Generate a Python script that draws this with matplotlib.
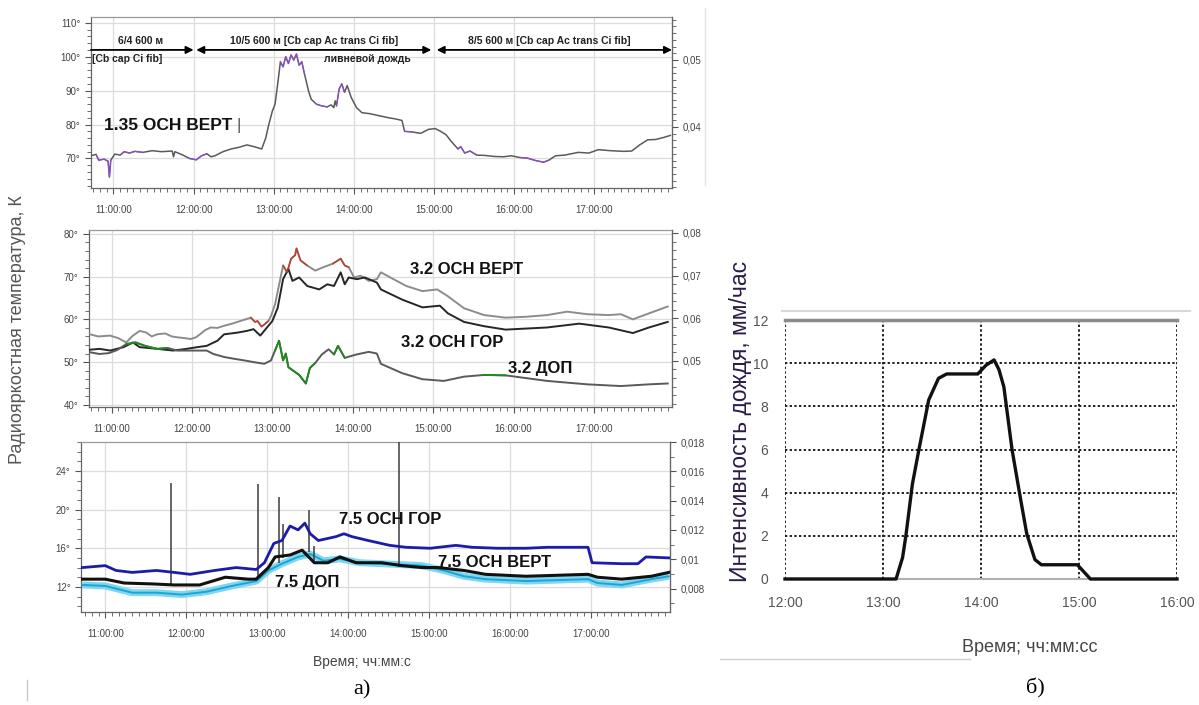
import numpy as np
import matplotlib
matplotlib.use("Agg")
import matplotlib.pyplot as plt
from matplotlib.ticker import MultipleLocator, FixedLocator, FuncFormatter
from matplotlib.lines import Line2D

plt.rcParams['font.family'] = ['Liberation Sans', 'DejaVu Sans']

# ---- 1.35 GHz, vertical polarisation (K) ----
t135 = ["10:43", "10:47", "10:49", "10:53", "10:56", "10:57", "10:58", "11:01", "11:05", "11:08",
        "11:12", "11:16", "11:22", "11:29", "11:36", "11:44", "11:45", "11:46", "11:52", "11:57",
        "12:02", "12:06", "12:10", "12:13", "12:16", "12:22", "12:28", "12:34", "12:40", "12:46",
        "12:51", "12:54", "12:56", "12:59", "13:01", "13:03", "13:05", "13:07", "13:09", "13:11",
        "13:13", "13:15", "13:17", "13:19", "13:21", "13:23", "13:26", "13:28", "13:32", "13:36",
        "13:40", "13:43", "13:45", "13:46", "13:47", "13:49", "13:51", "13:53", "13:55", "13:58",
        "14:02", "14:06", "14:12", "14:19", "14:26", "14:32", "14:36", "14:38", "14:44", "14:50",
        "14:56", "15:01", "15:05", "15:09", "15:13", "15:18", "15:20", "15:23", "15:27", "15:32",
        "15:38", "15:45", "15:52", "15:58", "16:04", "16:10", "16:16", "16:22", "16:26", "16:31",
        "16:38", "16:48", "16:56", "17:03", "17:12", "17:22", "17:28", "17:34", "17:40", "17:46",
        "17:52", "17:57"]
v135 = [70.8, 71.2, 69.5, 69.8, 69.2, 64.5, 69.5, 71.3, 71.0, 72.0,
        71.6, 72.1, 71.8, 72.3, 72.0, 72.2, 70.5, 72.0, 71.0, 70.0,
        69.6, 70.8, 71.4, 70.5, 70.8, 72.0, 72.8, 73.3, 74.0, 73.4,
        72.8, 76.0, 79.5, 84.0, 86.0, 92.0, 98.5, 97.0, 100.0, 98.0,
        100.5, 99.0, 100.8, 97.5, 98.5, 95.0, 90.0, 87.5, 86.0, 85.5,
        85.2, 85.8, 85.0, 87.0, 85.5, 90.5, 92.0, 89.5, 91.5, 88.0,
        85.0, 83.5, 83.2, 82.6, 82.0, 81.6, 81.2, 78.0, 77.8, 77.4,
        78.6, 78.8, 78.0, 77.0, 75.0, 72.8, 73.5, 71.6, 72.2, 71.0,
        70.9, 70.6, 70.5, 70.8, 70.3, 70.1, 69.4, 68.9, 69.5, 70.8,
        71.0, 71.8, 71.6, 72.6, 72.3, 72.1, 72.2, 74.0, 75.5, 75.6,
        76.2, 76.8]
purple_win = [("10:46", "11:00"), ("11:05", "11:25"), ("11:55", "12:10"), ("13:04", "13:24"),
              ("13:31", "13:40"), ("13:47", "13:53"), ("14:37", "14:44"), ("15:18", "15:35"),
              ("16:00", "16:30")]

# ---- 3.2 GHz ----
t32a = ["10:44", "10:50", "10:59", "11:05", "11:11", "11:16", "11:21", "11:26", "11:30", "11:34",
        "11:40", "11:45", "11:49", "11:55", "11:59", "12:03", "12:06", "12:10", "12:14", "12:19",
        "12:24", "12:30", "12:36", "12:40", "12:44", "12:47", "12:49", "12:52", "12:54", "12:57",
        "12:59", "13:02", "13:08", "13:11", "13:14", "13:17", "13:18", "13:21", "13:26", "13:32",
        "13:38", "13:45", "13:51", "13:54", "13:57", "14:01", "14:06", "14:12", "14:18", "14:21",
        "14:28", "14:40", "14:52", "15:03", "15:11", "15:23", "15:38", "15:54", "16:09", "16:25",
        "16:40", "16:55", "17:11", "17:20", "17:29", "17:41", "17:55"]
v32a = [56.5, 56.0, 56.2, 55.6, 54.6, 56.2, 57.3, 56.9, 56.0, 56.5,
        56.7, 56.0, 55.8, 55.6, 55.4, 55.8, 56.5, 57.5, 58.1, 58.0,
        58.5, 59.0, 59.6, 60.0, 60.4, 59.4, 59.6, 58.3, 58.8, 59.6,
        60.8, 63.5, 72.6, 71.0, 74.2, 75.0, 76.6, 73.8, 72.6, 71.4,
        72.2, 73.0, 74.2, 72.6, 72.2, 69.8, 70.2, 69.0, 69.4, 71.0,
        69.8, 67.8, 66.6, 67.0, 65.4, 62.6, 61.0, 60.4, 60.6, 61.0,
        61.8, 61.2, 61.0, 61.2, 60.0, 61.4, 63.0]
t32b = ["10:44", "10:51", "10:59", "11:09", "11:16", "11:21", "11:34", "11:46", "11:56", "12:04",
        "12:11", "12:19", "12:24", "12:34", "12:41", "12:46", "12:51", "12:56", "13:00", "13:04",
        "13:08", "13:12", "13:15", "13:20", "13:26", "13:35", "13:41", "13:46", "13:51", "13:54",
        "13:57", "14:03", "14:09", "14:18", "14:21", "14:37", "14:52", "15:05", "15:11", "15:23",
        "15:38", "15:54", "16:25", "16:49", "17:11", "17:29", "17:41", "17:55"]
v32b = [52.9, 53.1, 52.7, 53.5, 54.6, 53.5, 53.1, 52.7, 53.1, 53.5,
        53.8, 55.0, 56.5, 56.9, 57.3, 57.7, 56.2, 58.1, 59.6, 62.7,
        69.4, 71.8, 69.0, 69.8, 67.8, 67.0, 68.2, 67.8, 71.0, 68.2,
        69.8, 69.4, 69.8, 68.6, 67.0, 64.6, 62.8, 63.2, 61.4, 59.4,
        58.4, 57.6, 58.1, 59.0, 58.1, 56.8, 58.1, 59.4]
t32c = ["10:44", "10:51", "10:58", "11:04", "11:11", "11:18", "11:25", "11:34", "11:42", "11:49",
        "11:59", "12:11", "12:16", "12:24", "12:31", "12:39", "12:46", "12:54", "12:59", "13:02",
        "13:05", "13:08", "13:10", "13:12", "13:20", "13:25", "13:28", "13:32", "13:37", "13:42",
        "13:46", "13:49", "13:54", "14:03", "14:12", "14:18", "14:21", "14:37", "14:52", "15:08",
        "15:23", "15:38", "15:54", "16:25", "16:55", "17:20", "17:41", "17:55"]
v32c = [52.3, 51.9, 52.1, 52.8, 54.2, 54.6, 53.8, 53.1, 53.3, 52.7,
        52.7, 52.7, 51.9, 51.2, 50.8, 50.4, 50.0, 49.6, 50.4, 52.7,
        55.0, 50.4, 52.0, 48.8, 47.0, 45.0, 48.6, 49.8, 51.8, 53.0,
        51.8, 53.8, 51.0, 51.8, 52.4, 52.0, 49.6, 47.4, 46.0, 45.6,
        46.6, 47.0, 46.9, 45.6, 44.8, 44.4, 44.8, 45.0]
red_win = [("12:44", "12:58"), ("13:05", "13:27"), ("13:45", "13:58")]
green_win = [("11:10", "11:45"), ("13:00", "13:36"), ("13:44", "14:02"), ("15:35", "15:56")]

# ---- 7.5 GHz ----
t75g = ["10:43", "11:00", "11:08", "11:20", "11:38", "11:51", "12:03", "12:21", "12:37", "12:52",
        "12:58", "13:05", "13:11", "13:17", "13:23", "13:28", "13:32", "13:38", "13:51", "13:57",
        "14:03", "14:15", "14:31", "14:43", "15:01", "15:20", "15:32", "15:51", "16:12", "16:28",
        "16:58", "17:01", "17:23", "17:35", "17:41", "17:58"]
v75g = [14.0, 14.2, 13.7, 13.5, 13.7, 13.5, 13.3, 13.7, 14.0, 13.8,
        14.5, 16.5, 16.8, 18.3, 17.9, 18.6, 17.5, 16.8, 17.2, 17.5,
        17.2, 16.8, 16.3, 16.1, 16.0, 16.3, 16.1, 16.0, 16.0, 16.1,
        16.1, 14.5, 14.4, 14.4, 15.1, 15.0]
t75v = ["10:43", "11:00", "11:14", "11:36", "11:51", "12:10", "12:29", "12:46", "12:52", "13:01",
        "13:06", "13:17", "13:26", "13:35", "13:45", "13:54", "14:06", "14:25", "14:40", "14:55",
        "15:07", "15:26", "15:42", "16:12", "16:58", "17:05", "17:23", "17:45", "17:58"]
v75v = [12.8, 12.8, 12.4, 12.3, 12.2, 12.2, 13.0, 12.8, 12.8, 14.0,
        15.1, 15.3, 15.8, 14.5, 14.5, 15.1, 14.5, 14.5, 14.2, 14.0,
        14.0, 13.7, 13.3, 13.1, 13.3, 13.0, 12.8, 13.1, 13.5]
t75d = ["10:43", "11:00", "11:20", "11:38", "11:57", "12:15", "12:34", "12:52", "13:01", "13:11",
        "13:23", "13:32", "13:42", "13:54", "14:09", "14:25", "14:55", "15:11", "15:26", "15:42",
        "16:12", "16:58", "17:05", "17:23", "17:45", "17:58"]
v75d = [12.2, 12.1, 11.4, 11.4, 11.2, 11.5, 12.1, 12.6, 13.7, 14.4,
        15.1, 15.4, 14.7, 14.9, 14.5, 14.4, 14.2, 13.7, 13.1, 12.8,
        12.6, 12.8, 12.4, 12.2, 12.8, 13.1]
spike_t = ["11:49", "12:53", "13:09", "13:12", "13:31", "13:35", "14:38"]
spike_lo = [12.3, 12.8, 14.5, 15.0, 15.6, 14.6, 14.1]
spike_hi = [22.8, 22.7, 21.3, 18.5, 20.0, 16.2, 27.5]

# ---- rain intensity (mm/h) ----
rain_t = ["12:00", "13:08", "13:12", "13:14", "13:18", "13:22", "13:28", "13:34", "13:39", "13:58",
          "14:03", "14:08", "14:11", "14:14", "14:19", "14:24", "14:28", "14:33", "14:37", "14:59",
          "15:07", "16:00"]
rain_v = [0, 0, 1.0, 2.0, 4.4, 6.0, 8.3, 9.3, 9.5, 9.5,
          9.9, 10.15, 9.7, 8.9, 6.0, 3.8, 2.1, 0.9, 0.66, 0.66,
          0, 0]


def hrs(lst):
    return np.array([int(s.split(':')[0]) + int(s.split(':')[1]) / 60 for s in lst])


def windowed(t, v, wins):
    t = np.asarray(t)
    m = np.zeros(len(t), bool)
    for a, b in wins:
        m |= (t >= hrs([a])[0]) & (t <= hrs([b])[0])
    return np.where(m, v, np.nan)


W, H = 1199, 705


def box(l, t, r, b):
    return [l / W, 1 - b / H, (r - l) / W, (b - t) / H]


fig = plt.figure(figsize=(W / 100, H / 100), dpi=100)
fig.patch.set_facecolor('white')

xfmt = FuncFormatter(lambda v, p: "%02d:00:00" % int(round(v)))
TICKC = '#444444'


def style_panel(ax, xlim, ylim, yticks, ylabels, rlim, rticks, rlabels, yminor, rminor):
    ax.set_xlim(*xlim)
    ax.set_ylim(*ylim)
    ax.xaxis.set_major_locator(FixedLocator([11, 12, 13, 14, 15, 16, 17]))
    ax.xaxis.set_minor_locator(MultipleLocator(1 / 12))
    ax.xaxis.set_major_formatter(xfmt)
    ax.set_yticks(yticks)
    ax.set_yticklabels(ylabels)
    ax.yaxis.set_minor_locator(MultipleLocator(yminor))
    ax.grid(True, which='major', color='#dcdcdc', lw=0.9)
    ax.tick_params(axis='both', which='major', labelsize=7, colors='#555555', labelcolor=TICKC,
                   length=4, width=0.8)
    ax.tick_params(axis='x', which='major', pad=8)
    ax.tick_params(axis='both', which='minor', length=3, width=0.6, colors='#555555')
    for s in ax.spines.values():
        s.set_color('#666666')
        s.set_linewidth(0.9)
    ax.spines['top'].set_color('#999999')
    r = ax.twinx()
    r.set_ylim(*rlim)
    r.set_yticks(rticks)
    r.set_yticklabels(rlabels)
    r.yaxis.set_minor_locator(MultipleLocator(rminor))
    r.tick_params(axis='y', which='major', labelsize=7, colors='#555555', labelcolor=TICKC,
                  length=4, width=0.8)
    r.tick_params(axis='y', which='minor', length=3, width=0.6, colors='#555555')
    for s in r.spines.values():
        s.set_visible(False)
    r.spines['right'].set_visible(True)
    r.spines['right'].set_color('#666666')
    return r


# ---------- top panel ----------
ax1 = fig.add_axes(box(91, 17, 672, 188))
x = hrs(t135)
ax1.plot(x, v135, color='#5a5a5a', lw=1.1, zorder=3)
ax1.plot(x, windowed(x, v135, purple_win), color='#9a48e6', lw=0.8, alpha=0.85, zorder=4)
style_panel(ax1, (10.72, 17.97), (61.3, 111.7), [70, 80, 90, 100, 110],
            ["70°", "80°", "90°", "100°", "110°"],
            (0.0309, 0.0564), [0.04, 0.05], ["0,04", "0,05"], 2, 0.001)

arrow_kw = dict(color='black', lw=1.3, mutation_scale=11)
ax1.annotate('', xy=(hrs(["12:00"])[0], 102), xytext=(10.72, 102),
             arrowprops=dict(arrowstyle='-|>', shrinkA=0, shrinkB=0, **arrow_kw), zorder=6)
ax1.annotate('', xy=(hrs(["14:58"])[0], 102), xytext=(hrs(["12:02"])[0], 102),
             arrowprops=dict(arrowstyle='<|-|>', shrinkA=0, shrinkB=0, **arrow_kw), zorder=6)
ax1.annotate('', xy=(17.97, 102), xytext=(hrs(["15:02"])[0], 102),
             arrowprops=dict(arrowstyle='<|-|>', shrinkA=0, shrinkB=0, **arrow_kw), zorder=6)
hdr = dict(fontsize=7.5, color='#222222', fontweight='bold')
ax1.text(hrs(["11:20"])[0], 103.2, "6/4 600 м", ha='center', va='bottom', **hdr)
ax1.text(hrs(["10:44"])[0], 100.8, "[Cb cap Ci fib]", ha='left', va='top', **hdr)
ax1.text(hrs(["13:30"])[0], 103.2, "10/5 600 м [Cb cap Ac trans Ci fib]", ha='center', va='bottom', **hdr)
ax1.text(hrs(["14:10"])[0], 100.8, "ливневой дождь", ha='center', va='top', **hdr)
ax1.text(hrs(["16:26"])[0], 103.2, "8/5 600 м [Cb cap Ac trans Ci fib]", ha='center', va='bottom', **hdr)
ax1.text(hrs(["10:53"])[0], 79.8, "1.35 ОСН ВЕРТ", fontsize=12.5, fontweight='bold',
         ha='left', va='center', color='#111111', zorder=7)
ax1.text(hrs(["12:32"])[0], 79.8, "|", fontsize=12, color='#555555', ha='left', va='center')

# ---------- middle panel ----------
ax2 = fig.add_axes(box(89, 230, 672, 407))
xa, xb, xc = hrs(t32a), hrs(t32b), hrs(t32c)
ax2.plot(xa, v32a, color='#8c8c8c', lw=1.4, zorder=3)
ax2.plot(xa, windowed(xa, v32a, red_win), color='#c0392b', lw=1.0, zorder=4)
ax2.plot(xb, v32b, color='#262626', lw=1.4, zorder=3)
ax2.plot(xc, v32c, color='#5a5a5a', lw=1.4, zorder=3)
ax2.plot(xc, windowed(xc, v32c, green_win), color='#1f8a1f', lw=1.3, zorder=4)
style_panel(ax2, (10.72, 17.97), (39.5, 80.9), [40, 50, 60, 70, 80],
            ["40°", "50°", "60°", "70°", "80°"],
            (0.0392, 0.0807), [0.05, 0.06, 0.07, 0.08], ["0,05", "0,06", "0,07", "0,08"], 2, 0.002)
lbl = dict(fontsize=12, fontweight='bold', color='#111111', ha='left', va='center', zorder=7)
ax2.text(hrs(["14:43"])[0], 71.6, "3.2 ОСН ВЕРТ", **lbl)
ax2.text(hrs(["14:36"])[0], 54.5, "3.2 ОСН ГОР", **lbl)
ax2.text(hrs(["15:56"])[0], 48.6, "3.2 ДОП", **lbl)

# ---------- bottom panel ----------
ax3 = fig.add_axes(box(81, 442, 670, 612))
xd, xg, xv = hrs(t75d), hrs(t75g), hrs(t75v)
ax3.plot(xd, v75d, color='#7fd6f0', lw=5, zorder=2, solid_capstyle='butt')
ax3.plot(xd, v75d, color='#1aa5d6', lw=1.4, zorder=3)
ax3.vlines(hrs(spike_t), spike_lo, spike_hi, color='#3c3c3c', lw=1.1, zorder=3)
ax3.plot(xg, v75g, color='#1c1ca8', lw=2.0, zorder=4)
ax3.plot(xv, v75v, color='#111111', lw=2.2, zorder=5)
style_panel(ax3, (10.70, 17.98), (9.4, 27.0), [12, 16, 20, 24],
            ["12°", "16°", "20°", "24°"],
            (0.0064, 0.0178), [0.008, 0.01, 0.012, 0.014, 0.016, 0.018],
            ["0,008", "0,01", "0,012", "0,014", "0,016", "0,018"], 1, 0.001)
ax3.text(hrs(["13:53"])[0], 19.0, "7.5 ОСН ГОР", **lbl)
ax3.text(hrs(["15:07"])[0], 14.5, "7.5 ОСН ВЕРТ", **lbl)
ax3.text(hrs(["13:06"])[0], 12.5, "7.5 ДОП", **lbl)

# ---------- rain panel ----------
ax4 = fig.add_axes(box(785, 320, 1177, 579))
ax4.plot(hrs(rain_t), rain_v, color='#111111', lw=2.4, clip_on=False, zorder=5)
ax4.set_xlim(12, 16)
ax4.set_ylim(0, 12)
ax4.set_xticks([12, 13, 14, 15, 16])
ax4.set_xticklabels(["12:00", "13:00", "14:00", "15:00", "16:00"])
ax4.set_yticks([0, 2, 4, 6, 8, 10, 12])
ax4.grid(True, ls=(0, (1.2, 1.2)), color='#222222', lw=1.4)
ax4.tick_params(length=0, labelsize=10, labelcolor='#555555', pad=12)
for s in ax4.spines.values():
    s.set_visible(False)
ax4.spines['top'].set_visible(True)
ax4.spines['top'].set_color('#8a8a8a')
ax4.spines['top'].set_linewidth(2.5)
ax4.spines['bottom'].set_visible(True)
ax4.spines['bottom'].set_color('#b0b0b0')
ax4.spines['bottom'].set_linewidth(1.5)

# ---------- figure texts ----------
fig.text(18 / W, 1 - 330 / H, "Радиояркостная температура, К", rotation=90, fontsize=13,
         color='#555555', ha='center', va='center')
fig.text(362 / W, 1 - 662 / H, "Время; чч:мм:с", fontsize=10, color='#444444',
         ha='center', va='center')
fig.text(362 / W, 1 - 690 / H, "а)", fontsize=16, family=['Liberation Serif', 'DejaVu Serif'],
         ha='center', va='center')
fig.text(741 / W, 1 - 421 / H, "Интенсивность дождя, мм/час", rotation=90, fontsize=16.5,
         color='#2b1b4a', ha='center', va='center')
fig.text(1030 / W, 1 - 648 / H, "Время; чч:мм:сс", fontsize=13, color='#444444',
         ha='center', va='center')
fig.text(1035 / W, 1 - 688 / H, "б)", fontsize=16, family=['Liberation Serif', 'DejaVu Serif'],
         ha='center', va='center')

# faint scan lines
fig.add_artist(Line2D([782 / W, 1190 / W], [1 - 311 / H] * 2, color='#d8d8d8', lw=1.5))
fig.add_artist(Line2D([720 / W, 970 / W], [1 - 659 / H] * 2, color='#d0d0d0', lw=1))
fig.add_artist(Line2D([705 / W, 705 / W], [1 - 8 / H, 1 - 185 / H], color='#e2e2e2', lw=1))
fig.add_artist(Line2D([27 / W, 27 / W], [1 - 680 / H, 1 - 700 / H], color='#c8c8c8', lw=1))

fig.savefig("out.png", dpi=100, facecolor='white')
